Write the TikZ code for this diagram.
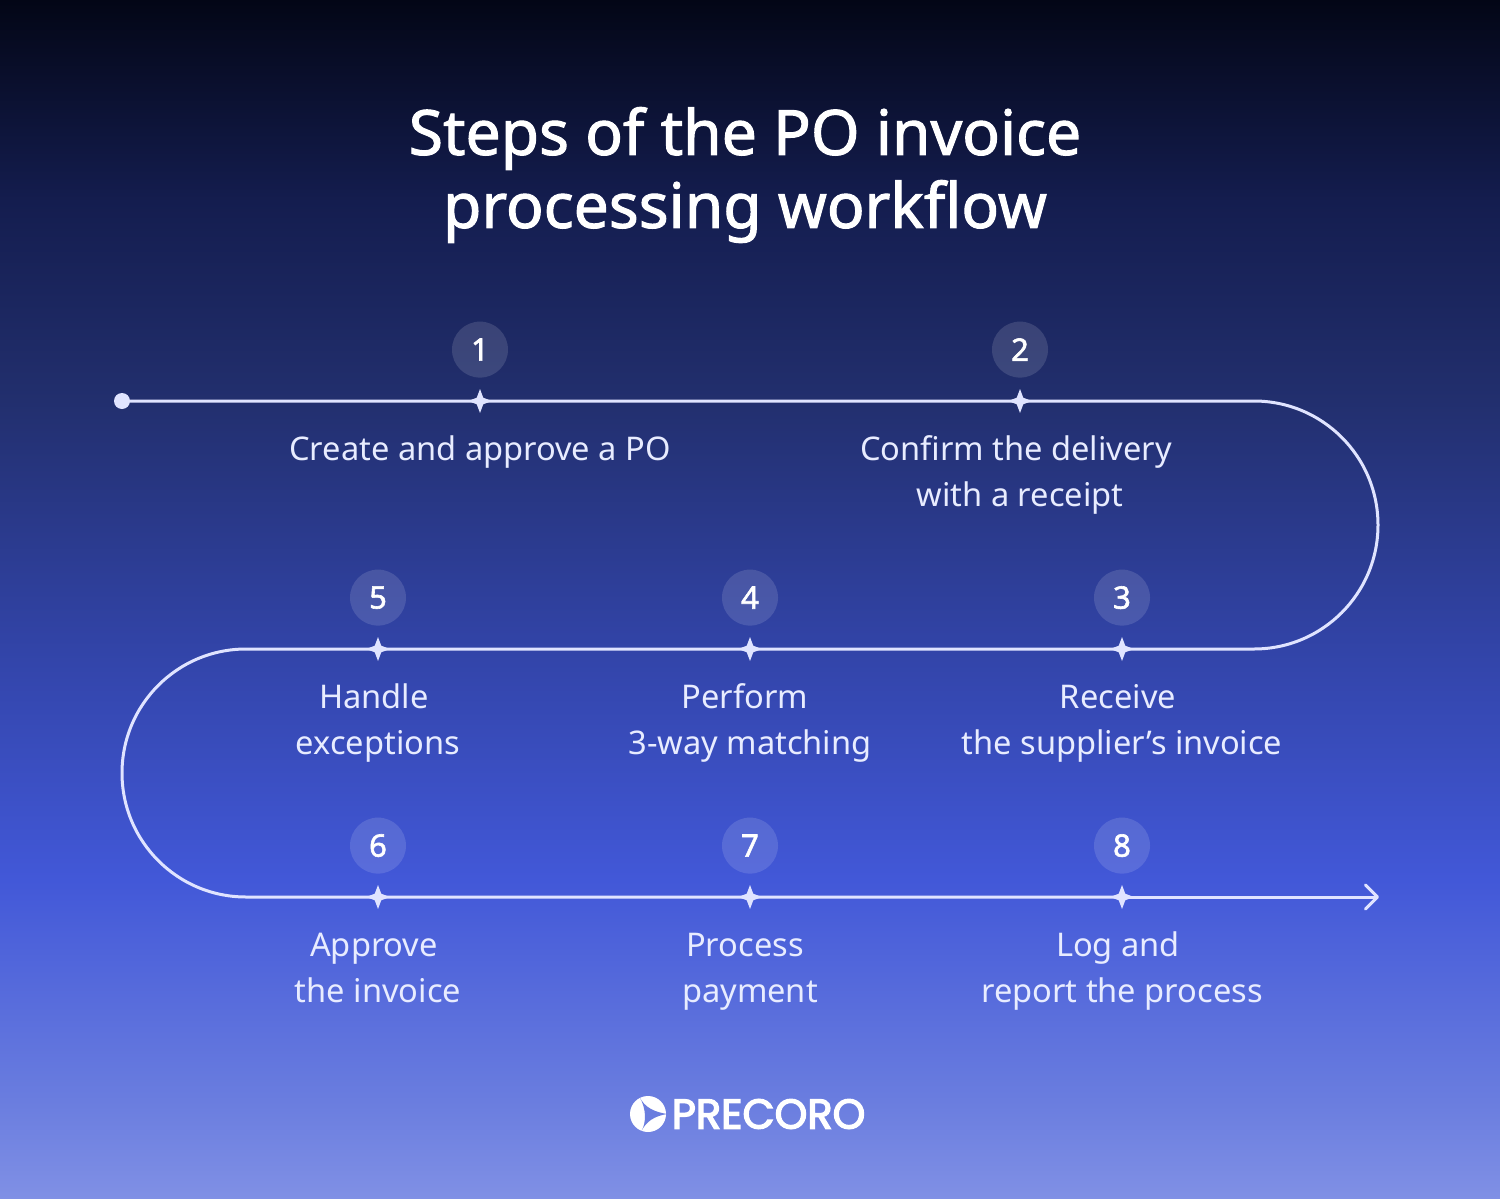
\documentclass[tikz,border=0pt]{standalone}
\usepackage{fontspec}
\setmainfont{Noto Sans}
\newfontfamily\logofont{Poppins}
\newcommand{\heavier}[2]{\special{pdf:code 2 Tr #1 w}#2\special{pdf:code 0 Tr 0 w}}
\definecolor{line}{RGB}{224, 228, 255}
\definecolor{labeltext}{RGB}{232, 236, 255}
\definecolor{logocut}{RGB}{106, 125, 223}
\definecolor{shadea}{RGB}{128, 144, 229}
\definecolor{shadeb}{RGB}{106, 125, 223}
\definecolor{shadec}{RGB}{66, 88, 216}
\definecolor{shaded}{RGB}{50, 68, 168}
\definecolor{shadee}{RGB}{34, 47, 110}
\definecolor{shadef}{RGB}{20, 29, 79}
\definecolor{shadeg}{RGB}{3, 6, 22}
\usetikzlibrary{shapes.geometric,arrows.meta,positioning}
\pgfdeclareverticalshading{backdrop}{100bp}{
	color(0bp)=(shadea);
	color(25bp)=(shadea);
	color(29.1bp)=(shadeb);
	color(38.3bp)=(shadec);
	color(47.9bp)=(shaded);
	color(58.3bp)=(shadee);
	color(66.6bp)=(shadef);
	color(75bp)=(shadeg);
	color(100bp)=(shadeg)}
\begin{document}
\begin{tikzpicture}[x=0.5pt,y=-0.5pt,
		stepmark/.style={star,star points=4,star point ratio=2.6,minimum size=12pt,inner sep=0pt,fill=line},
		badge/.style={circle,minimum size=28pt,inner sep=0pt,fill=white,fill opacity=.13,text opacity=1,text=white,
			font=\fontsize{15.5}{16}\selectfont,above=11.5pt of #1.center},
		steptext/.style={align=center,inner sep=0pt,text=labeltext,below=13.4pt of #1.center,
			font=\fontsize{16.3}{23}\selectfont},
		track/.style={draw=line,line width=1.5pt}]
	\shade[shading=backdrop] (0,0) rectangle (1500,1199);
	\useasboundingbox (0,0) rectangle (1500,1199);
	% heading
	\node[align=center,text=white,font=\fontsize{31.2}{36.5}\selectfont] (title) at (745,175)
		{\heavier{0.5}{Steps of the PO invoice}\\\heavier{0.5}{processing workflow}};
	% marks on the track
	\node[circle,fill=line,minimum size=8pt,inner sep=0pt] (origin) at (122,401) {};
	\node[stepmark] (s1) at (480,401) {};
	\node[stepmark] (s2) at (1020,401) {};
	\node[stepmark] (s3) at (1122,649) {};
	\node[stepmark] (s4) at (750,649) {};
	\node[stepmark] (s5) at (378,649) {};
	\node[stepmark] (s6) at (378,897) {};
	\node[stepmark] (s7) at (750,897) {};
	\node[stepmark] (s8) at (1122,897) {};
	\coordinate (bendright) at (1254,401);
	\coordinate (bendleft) at (246,649);
	\coordinate (finish) at (1379,897);
	% the track
	\draw[track] (origin.center) -- (s1.center) -- (s2.center) -- (bendright)
		arc[start angle=90,end angle=-90,radius=62pt] -- (s3.center) -- (s4.center) -- (s5.center) -- (bendleft)
		arc[start angle=90,end angle=270,radius=62pt] -- (s6.center) -- (s7.center) -- (s8.center);
	\draw[track,-{Straight Barb[length=6pt,width=12pt,round]}] (s8.center) -- (finish);
	% numbers
	\node[badge=s1] (n1) {\heavier{0.3}{1}};
	\node[badge=s2] (n2) {\heavier{0.3}{2}};
	\node[badge=s3] (n3) {\heavier{0.3}{3}};
	\node[badge=s4] (n4) {\heavier{0.3}{4}};
	\node[badge=s5] (n5) {\heavier{0.3}{5}};
	\node[badge=s6] (n6) {\heavier{0.3}{6}};
	\node[badge=s7] (n7) {\heavier{0.3}{7}};
	\node[badge=s8] (n8) {\heavier{0.3}{8}};
	% texts
	\node[steptext=s1] (t1) {\strut Create and approve a PO};
	\node[steptext=s2] (t2) {\strut Confirm the delivery\kern4pt\\with a receipt};
	\node[steptext=s3] (t3) {\strut Receive\kern4pt\\the supplier’s invoice};
	\node[steptext=s4] (t4) {\strut Perform\kern5pt\\3-way matching};
	\node[steptext=s5] (t5) {\strut Handle\kern4pt\\exceptions};
	\node[steptext=s6] (t6) {\strut Approve\kern4pt\\the invoice};
	\node[steptext=s7] (t7) {\strut Process\kern5pt\\payment};
	\node[steptext=s8] (t8) {\strut Log and\kern4pt\\report the process};
	% logo
	\node[circle,fill=white,minimum size=18pt,inner sep=0pt] (logomark) at (648,1114) {};
	\fill[logocut] (639.5,1097) .. controls (645,1108) and (655,1112) .. (667,1114)
		.. controls (655,1116) and (646,1121) .. (641,1132)
		.. controls (647,1122) and (646,1108) .. (639.5,1097);
	\node[right=2.5pt of logomark,inner sep=0pt,text=white,font=\logofont\fontsize{20.8}{20}\selectfont] (logoname) {\heavier{0.7}{PRECORO}};
\end{tikzpicture}
\end{document}
